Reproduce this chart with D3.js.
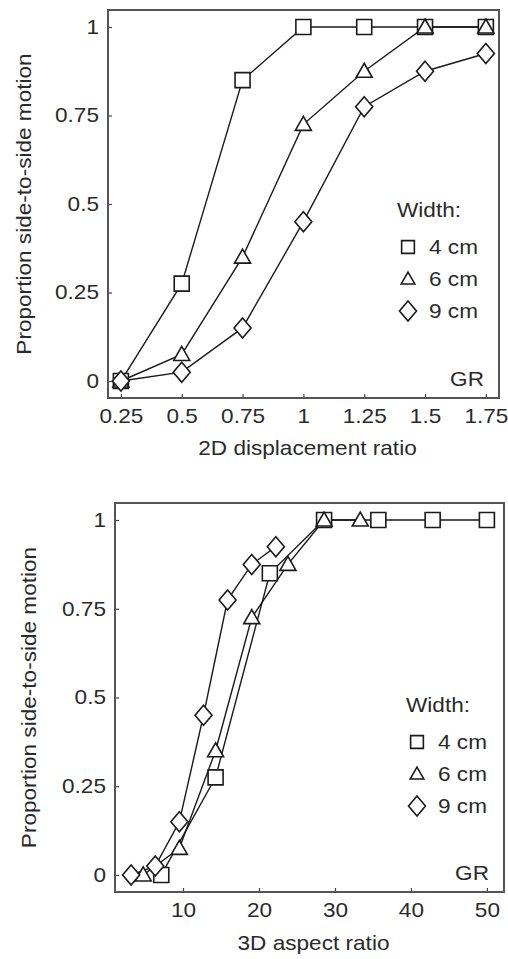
<!DOCTYPE html>
<html>
<head>
<meta charset="utf-8">
<script src="https://cdn.jsdelivr.net/npm/d3@7"></script>
<style>
  html, body { margin: 0; padding: 0; background: #fff; }
  svg text { font-family: "Liberation Sans", Arial, Helvetica, sans-serif; fill: #2a2a2a; }
</style>
</head>
<body>
<svg id="chart" width="508" height="959"></svg>
<script>
// ---- Data ----
const displacementRatios = [0.25, 0.5, 0.75, 1.0, 1.25, 1.5, 1.75];
const widths = ["4 cm", "6 cm", "9 cm"];
const shapes = ["square", "triangle", "diamond"];
const proportion4cm = [0, 0.275, 0.85, 1, 1, 1, 1];
const proportion6cm = [0, 0.075, 0.35, 0.725, 0.875, 1, 1];
const proportion9cm = [0, 0.025, 0.15, 0.45, 0.775, 0.875, 0.925];
const aspect4cm = [7.14, 14.29, 21.43, 28.57, 35.71, 42.86, 50.0];
const aspect6cm = [4.76, 9.52, 14.29, 19.05, 23.81, 28.57, 33.33];
const aspect9cm = [3.17, 6.35, 9.52, 12.70, 15.87, 19.05, 22.22];
const yTicks = [0, 0.25, 0.5, 0.75, 1];
const yTickLabels = ["0", "0.25", "0.5", "0.75", "1"];
const xTicksTop = [0.25, 0.5, 0.75, 1, 1.25, 1.5, 1.75];
const xTickLabelsTop = ["0.25", "0.5", "0.75", "1", "1.25", "1.5", "1.75"];
const xTicksBottom = [10, 20, 30, 40, 50];
const xTickLabelsBottom = ["10", "20", "30", "40", "50"];
const yTitle = "Proportion side-to-side motion";
const xTitleTop = "2D displacement ratio";
const xTitleBottom = "3D aspect ratio";
const legendTitle = "Width:";
const observer = "GR";

const STRETCH = 1.13;
const svg = d3.select("#chart");

function symbolPath(shape, s) {
  if (shape === "square") {
    const h = 7.5 * s;
    return `M${-h},${-h}H${h}V${h}H${-h}Z`;
  } else if (shape === "triangle") {
    const w = 8 * s, h = 7 * s;
    return `M0,${-h - 1}L${w},${h - 1}H${-w}Z`;
  } else {
    const w = 8.5 * s, h = 10 * s;
    return `M0,${-h}L${w},0L0,${h}L${-w},0Z`;
  }
}

// place text at (x,y) stretched horizontally along its reading direction
function addText(g, x, y, str, anchor, rot) {
  return g.append("text")
    .attr("transform", `translate(${x},${y})${rot ? ` rotate(${rot})` : ""} scale(${STRETCH},1)`)
    .attr("text-anchor", anchor || "start").attr("font-size", 20).text(str);
}

function panel(cfg) {
  const g = svg.append("g");
  const x = d3.scaleLinear().domain(cfg.xDomain).range([cfg.left, cfg.right]);
  const y = d3.scaleLinear().domain([-0.048, 1.048]).range([cfg.bottom, cfg.top]);

  const xAxis = d3.axisBottom(x).tickValues(cfg.xTicks)
    .tickFormat((d, i) => cfg.xLabels[i]).tickSizeInner(-4).tickSizeOuter(0).tickPadding(11);
  const yAxis = d3.axisLeft(y).tickValues(yTicks)
    .tickFormat((d, i) => yTickLabels[i]).tickSizeInner(-4).tickSizeOuter(0).tickPadding(9);

  const gx = g.append("g").attr("transform", `translate(0,${cfg.bottom})`).call(xAxis);
  const gy = g.append("g").attr("transform", `translate(${cfg.left},0)`).call(yAxis);
  [gx, gy].forEach(a => {
    a.select(".domain").remove();
    a.selectAll(".tick line").attr("stroke", "#444").attr("stroke-width", 1.2);
    a.selectAll(".tick text").each(function () {
      const t = d3.select(this);
      const tx = +t.attr("x") || 0, ty = +t.attr("y") || 0;
      t.attr("x", 0).attr("y", 0)
        .attr("transform", `translate(${tx},${ty}) scale(${STRETCH},1)`)
        .attr("font-size", 20).attr("fill", "#2a2a2a")
        .style("font-family", '"Liberation Sans", Arial, sans-serif');
    });
  });

  g.append("rect")
    .attr("x", cfg.left).attr("y", cfg.top)
    .attr("width", cfg.right - cfg.left).attr("height", cfg.bottom - cfg.top)
    .attr("fill", "none").attr("stroke", "#555").attr("stroke-width", 2);

  cfg.series.forEach((s) => {
    const pts = s.xs.map((xv, i) => [x(xv), y(s.ys[i])]);
    g.append("path").attr("d", d3.line()(pts))
      .attr("fill", "none").attr("stroke", "#1a1a1a").attr("stroke-width", 1.4);
  });
  cfg.series.forEach((s, si) => {
    g.selectAll(null).data(s.xs.map((xv, i) => [xv, s.ys[i]])).enter()
      .append("path")
      .attr("transform", d => `translate(${x(d[0])},${y(d[1])})`)
      .attr("d", symbolPath(shapes[si], 1))
      .attr("fill", "#fff").attr("stroke", "#1a1a1a").attr("stroke-width", 1.6);
  });

  addText(g, (cfg.left + cfg.right) / 2 + 4, cfg.xTitleY, cfg.xTitle, "middle");
  addText(g, cfg.yTitleX, (cfg.top + cfg.bottom) / 2, yTitle, "middle", -90);

  const lx = cfg.right - cfg.legendDx;
  addText(g, lx, cfg.legendY, legendTitle);
  widths.forEach((w, i) => {
    const cy = cfg.legendY + 30 + i * 32;
    g.append("path").attr("transform", `translate(${lx + 11},${cy})`)
      .attr("d", symbolPath(shapes[i], shapes[i] === "diamond" ? 1 : 0.85))
      .attr("fill", "#fff").attr("stroke", "#1a1a1a").attr("stroke-width", 1.6);
    addText(g, lx + 32, cy + 7, w);
  });
  addText(g, cfg.right - 15, cfg.bottom - 12, observer, "end");
}

panel({
  left: 108, right: 499, top: 10, bottom: 398,
  xDomain: [0.197, 1.804], xTicks: xTicksTop, xLabels: xTickLabelsTop,
  xTitle: xTitleTop, xTitleY: 455, yTitleX: 31, legendY: 217, legendDx: 102,
  series: [
    { xs: displacementRatios, ys: proportion4cm },
    { xs: displacementRatios, ys: proportion6cm },
    { xs: displacementRatios, ys: proportion9cm }
  ]
});

panel({
  left: 115, right: 504, top: 503, bottom: 892,
  xDomain: [1.05, 52.25], xTicks: xTicksBottom, xLabels: xTickLabelsBottom,
  xTitle: xTitleBottom, xTitleY: 950, yTitleX: 36, legendY: 712, legendDx: 98,
  series: [
    { xs: aspect4cm, ys: proportion4cm },
    { xs: aspect6cm, ys: proportion6cm },
    { xs: aspect9cm, ys: proportion9cm }
  ]
});
</script>
</body>
</html>
